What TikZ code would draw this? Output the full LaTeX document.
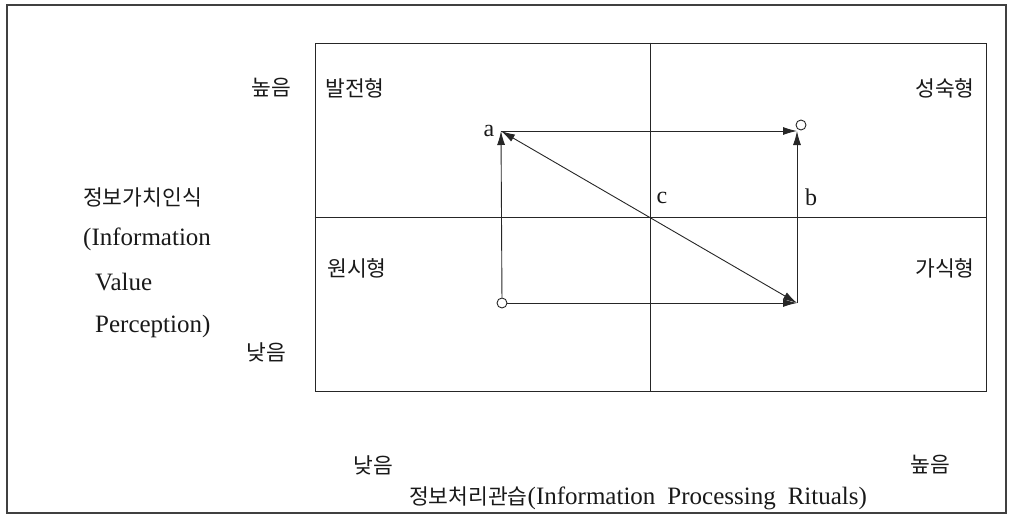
\documentclass[tikz,border=0pt]{standalone}
\usepackage{fontspec}
\setmainfont{Liberation Serif}
\newfontfamily\kr{Noto Sans CJK KR}[Scale=0.86]
\usetikzlibrary{arrows.meta}
\tikzset{
  frame/.style={draw=black!75,line width=1.4pt},
  quad/.style={draw=black!85,line width=0.9pt},
  arr/.style={draw=black!85,line width=0.9pt,-{Latex[length=14pt,width=8pt]}},
  darr/.style={draw=black!85,line width=0.9pt,{Latex[length=14pt,width=8pt]}-{Latex[length=14pt,width=8pt]}},
  circ/.style={circle,draw=black!85,line width=0.9pt,minimum size=10pt,inner sep=0pt},
  txt/.style={font=\fontsize{25}{28}\selectfont,inner sep=0pt,text=black!90},
  krt/.style={txt,font=\fontsize{25}{28}\selectfont\kr},
  lbl/.style={txt,font=\fontsize{24}{28}\selectfont}
}
\begin{document}
\begin{tikzpicture}[x=1pt,y=-1pt]
\useasboundingbox (0,0) rectangle (1013,519);
\node[frame,minimum width=999pt,minimum height=508pt,inner sep=0pt] (outer) at (506.5,259) {};
\node[quad,minimum width=671pt,minimum height=348pt,inner sep=0pt] (box) at (650.5,217) {};
\draw[quad] (box.north) -- (box.south);
\draw[quad] (box.west) -- (box.east);
% points
\coordinate (a) at (501,131);
\coordinate (p) at (797,131);
\coordinate (d) at (797,303);
\node[circ] (oc) at (502,303) {};
\node[circ] (pc) at (801,125) {};
\draw[arr] (oc) -- (a);
\draw[arr] (a) -- (p);
\draw[arr] (oc) -- (d);
\draw[arr] (d) -- (p);
\draw[darr] (a) -- (d);
% letter labels
\node[lbl] (la) at (489,131) {a};
\node[lbl] (lc) at (662,198) {c};
\node[lbl] (lb) at (811,197) {b};
% quadrant labels
\node[krt] (q1) at (355,88) {발전형};
\node[krt] (q2) at (945,88) {성숙형};
\node[krt] (q3) at (357,268) {원시형};
\node[krt] (q4) at (945,268) {가식형};
% y axis
\node[krt] (yh) at (271,88) {높음};
\node[krt] (yl) at (266,352) {낮음};
\node[krt,anchor=west] (yt1) at (83,197) {정보가치인식};
\node[txt,anchor=west] (yt2) at (83,239) {(Information};
\node[txt,anchor=west] (yt3) at (95,282) {Value};
\node[txt,anchor=west] (yt4) at (95,326) {Perception)};
% x axis
\node[krt] (xl) at (373,465) {낮음};
\node[krt] (xh) at (930,465) {높음};
\node[txt] (xt) at (638,498) {{\kr 정보처리관습}(Information\hspace{12pt}Processing\hspace{12pt}Rituals)};
\end{tikzpicture}
\end{document}
